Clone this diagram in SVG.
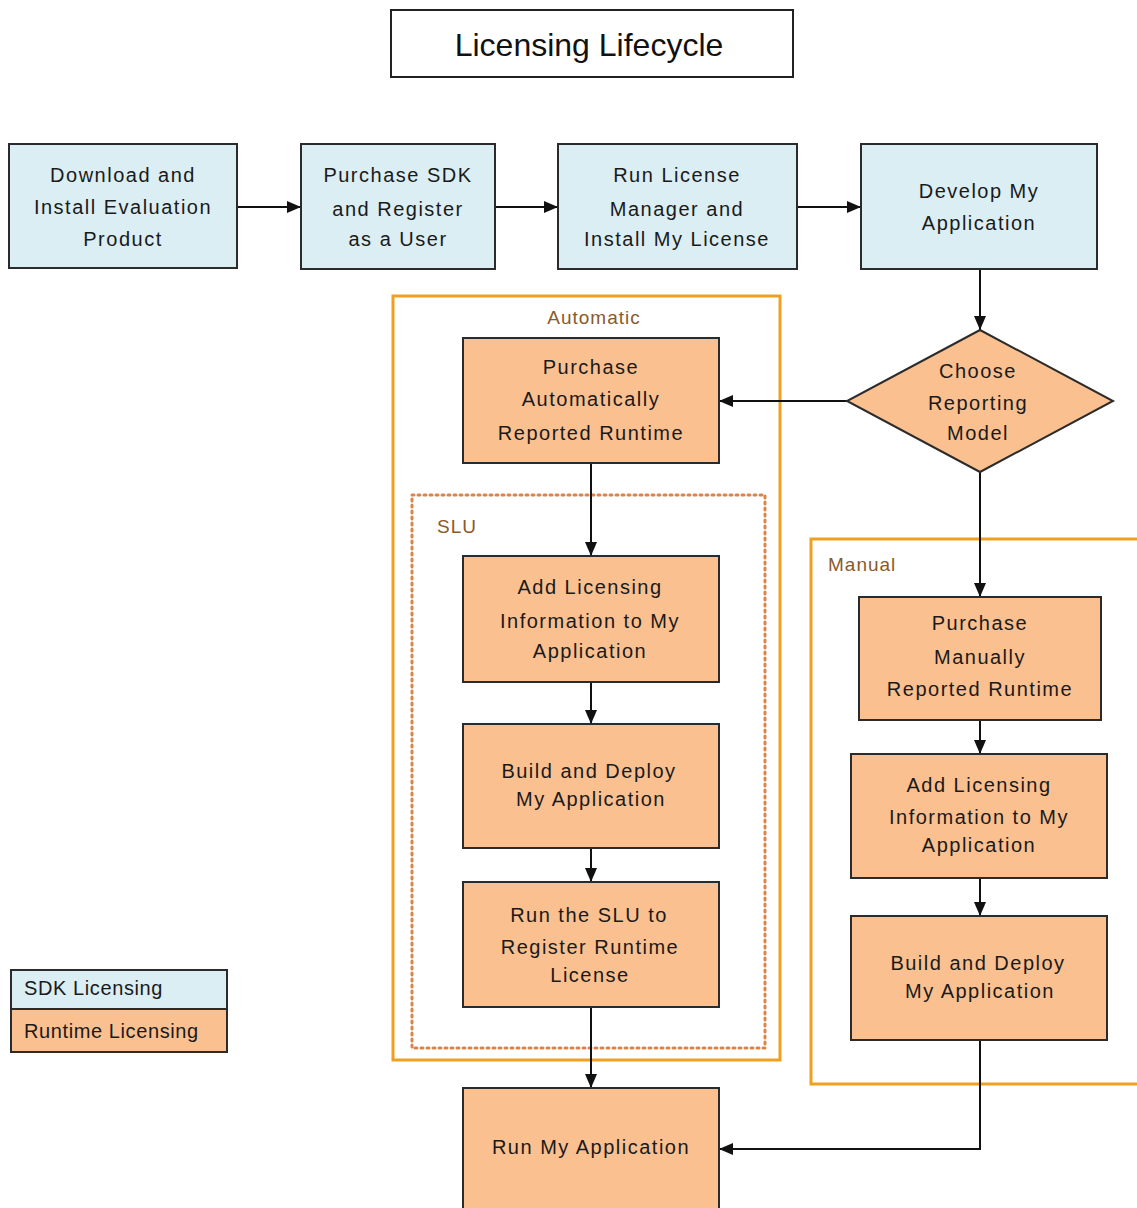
<svg xmlns="http://www.w3.org/2000/svg" width="1137" height="1208" viewBox="0 0 1137 1208">
<defs>
<marker id="arr" viewBox="0 0 14 12" refX="14" refY="6" markerWidth="14" markerHeight="12" markerUnits="userSpaceOnUse" orient="auto">
<path d="M0,0 L14,6 L0,12 Z" fill="#111"/>
</marker>
<style>
.blue{fill:#DAEEF3;stroke:#2b2b2b;stroke-width:2}
.orng{fill:#FAC090;stroke:#2b2b2b;stroke-width:2}
.t{font-family:"Liberation Sans",Arial,sans-serif;font-size:20px;fill:#1a1a1a;text-anchor:middle;letter-spacing:1.5px}
.lbl{font-family:"Liberation Sans",Arial,sans-serif;font-size:19px;fill:#8a5a2a;letter-spacing:1px}
.cont{fill:none;stroke:#F0A020;stroke-width:3}
.dot{fill:none;stroke:#D9844A;stroke-width:3;stroke-dasharray:2 4;stroke-linecap:round}
.c{fill:none;stroke:#111;stroke-width:2}
.lg{font-family:"Liberation Sans",Arial,sans-serif;font-size:20px;fill:#1a1a1a;letter-spacing:0.6px}
</style>
</defs>
<rect width="1137" height="1208" fill="#fff"/>

<g id="title">
<rect x="391" y="10" width="402" height="67" fill="#fff" stroke="#222" stroke-width="2"/>
<text x="589" y="56" font-family="'Liberation Sans',Arial,sans-serif" font-size="32" text-anchor="middle" fill="#111">Licensing Lifecycle</text>
</g>

<g id="group-automatic">
<rect class="cont" x="393" y="296" width="387" height="764"/>
<text class="lbl" x="594" y="324" text-anchor="middle">Automatic</text>
</g>
<g id="group-slu">
<rect class="dot" x="412" y="495" width="353" height="553"/>
<text class="lbl" x="437" y="533">SLU</text>
</g>
<g id="group-manual">
<rect class="cont" x="811" y="539" width="340" height="545"/>
<text class="lbl" x="828" y="571">Manual</text>
</g>

<g id="connectors">
<line class="c" x1="237" y1="207" x2="301" y2="207" marker-end="url(#arr)"/>
<line class="c" x1="495" y1="207" x2="558" y2="207" marker-end="url(#arr)"/>
<line class="c" x1="797" y1="207" x2="861" y2="207" marker-end="url(#arr)"/>
<line class="c" x1="980" y1="269" x2="980" y2="330" marker-end="url(#arr)"/>
<line class="c" x1="847" y1="401" x2="719" y2="401" marker-end="url(#arr)"/>
<line class="c" x1="980" y1="472" x2="980" y2="597" marker-end="url(#arr)"/>
<line class="c" x1="591" y1="463" x2="591" y2="556" marker-end="url(#arr)"/>
<line class="c" x1="591" y1="682" x2="591" y2="724" marker-end="url(#arr)"/>
<line class="c" x1="591" y1="848" x2="591" y2="882" marker-end="url(#arr)"/>
<line class="c" x1="591" y1="1007" x2="591" y2="1088" marker-end="url(#arr)"/>
<line class="c" x1="980" y1="720" x2="980" y2="754" marker-end="url(#arr)"/>
<line class="c" x1="980" y1="878" x2="980" y2="916" marker-end="url(#arr)"/>
<polyline class="c" points="980,1040 980,1149 719,1149" marker-end="url(#arr)"/>
</g>

<g id="n-download">
<rect class="blue" x="9" y="144" width="228" height="124"/>
<text class="t" x="123" y="182">Download and</text>
<text class="t" x="123" y="214">Install Evaluation</text>
<text class="t" x="123" y="246">Product</text>
</g>
<g id="n-purchase-sdk">
<rect class="blue" x="301" y="144" width="194" height="125"/>
<text class="t" x="398" y="182">Purchase SDK</text>
<text class="t" x="398" y="216">and Register</text>
<text class="t" x="398" y="246">as a User</text>
</g>
<g id="n-run-lm">
<rect class="blue" x="558" y="144" width="239" height="125"/>
<text class="t" x="677" y="182">Run License</text>
<text class="t" x="677" y="216">Manager and</text>
<text class="t" x="677" y="246">Install My License</text>
</g>
<g id="n-develop">
<rect class="blue" x="861" y="144" width="236" height="125"/>
<text class="t" x="979" y="198">Develop My</text>
<text class="t" x="979" y="230">Application</text>
</g>
<g id="n-choose">
<polygon class="orng" points="980,330 1113,401 980,472 847,401"/>
<text class="t" x="978" y="378">Choose</text>
<text class="t" x="978" y="410">Reporting</text>
<text class="t" x="978" y="440">Model</text>
</g>
<g id="n-purchase-auto">
<rect class="orng" x="463" y="338" width="256" height="125"/>
<text class="t" x="591" y="374">Purchase</text>
<text class="t" x="591" y="406">Automatically</text>
<text class="t" x="591" y="440">Reported Runtime</text>
</g>
<g id="n-add-lic-auto">
<rect class="orng" x="463" y="556" width="256" height="126"/>
<text class="t" x="590" y="594">Add Licensing</text>
<text class="t" x="590" y="628">Information to My</text>
<text class="t" x="590" y="658">Application</text>
</g>
<g id="n-build-auto">
<rect class="orng" x="463" y="724" width="256" height="124"/>
<text class="t" x="589" y="778">Build and Deploy</text>
<text class="t" x="591" y="806">My Application</text>
</g>
<g id="n-run-slu">
<rect class="orng" x="463" y="882" width="256" height="125"/>
<text class="t" x="589" y="922">Run the SLU to</text>
<text class="t" x="590" y="954">Register Runtime</text>
<text class="t" x="590" y="982">License</text>
</g>
<g id="n-run-app">
<rect class="orng" x="463" y="1088" width="256" height="130"/>
<text class="t" x="591" y="1154">Run My Application</text>
</g>
<g id="n-purchase-manual">
<rect class="orng" x="859" y="597" width="242" height="123"/>
<text class="t" x="980" y="630">Purchase</text>
<text class="t" x="980" y="664">Manually</text>
<text class="t" x="980" y="696">Reported Runtime</text>
</g>
<g id="n-add-lic-manual">
<rect class="orng" x="851" y="754" width="256" height="124"/>
<text class="t" x="979" y="792">Add Licensing</text>
<text class="t" x="979" y="824">Information to My</text>
<text class="t" x="979" y="852">Application</text>
</g>
<g id="n-build-manual">
<rect class="orng" x="851" y="916" width="256" height="124"/>
<text class="t" x="978" y="970">Build and Deploy</text>
<text class="t" x="980" y="998">My Application</text>
</g>

<g id="legend">
<rect class="blue" x="11" y="970" width="216" height="39"/>
<rect class="orng" x="11" y="1009" width="216" height="43"/>
<text class="lg" x="24" y="995">SDK Licensing</text>
<text class="lg" x="24" y="1038">Runtime Licensing</text>
</g>
</svg>
